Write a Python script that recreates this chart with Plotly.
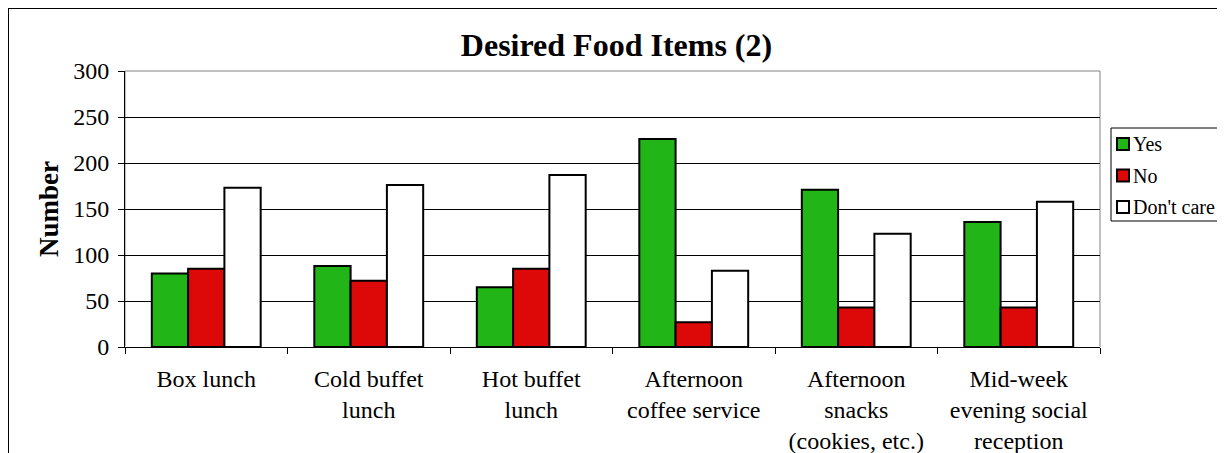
import plotly.graph_objs as go

# Chart data
categories = [
    "Box lunch",
    "Cold buffet<br>lunch",
    "Hot buffet<br>lunch",
    "Afternoon<br>coffee service",
    "Afternoon<br>snacks<br>(cookies, etc.)",
    "Mid-week<br>evening social<br>reception",
]
yes_values = [80, 88, 65, 226, 171, 136]
no_values = [85, 72, 85, 27, 43, 43]
dont_care_values = [173, 176, 187, 83, 123, 158]

series = [
    ("Yes", yes_values, "#21b517"),
    ("No", no_values, "#dd0808"),
    ("Don't care", dont_care_values, "#ffffff"),
]

font_family = "Liberation Serif, Times New Roman, serif"

# page adds an 8px body margin; size the figure so it fits the window
W, H = 1217, 445
L, T, PW, PH = 117, 63, 975, 276
R, B = W - L - PW, H - T - PH


def px_x(px):
    return (px - L) / PW


def px_y(py):
    return 1 - (py - T) / PH


fig = go.Figure()
for name, values, color in series:
    fig.add_trace(
        go.Bar(
            name=name,
            x=categories,
            y=values,
            marker=dict(color=color, line=dict(color="black", width=2)),
        )
    )

fig.update_layout(
    width=W,
    height=H,
    barmode="group",
    bargap=0.33,
    bargroupgap=0,
    plot_bgcolor="white",
    paper_bgcolor="white",
    margin=dict(l=L, r=R, t=T, b=B, autoexpand=False),
    font=dict(family=font_family, size=24, color="black"),
    title=dict(
        text="<b>Desired Food Items (2)</b>",
        x=0.5,
        xanchor="center",
        y=1 - 37 / H,
        yanchor="middle",
        font=dict(size=32),
    ),
    showlegend=False,
)

fig.update_yaxes(
    range=[0, 300],
    dtick=50,
    showgrid=True,
    gridcolor="black",
    gridwidth=1,
    showline=True,
    linecolor="black",
    linewidth=1,
    ticks="outside",
    ticklen=6,
    tickcolor="black",
    ticklabelstandoff=4,
    automargin=False,
    title=dict(text="<b>Number</b>", font=dict(size=27), standoff=6),
)
fig.update_xaxes(
    showline=True,
    linecolor="black",
    linewidth=1,
    ticks="outside",
    ticklen=6,
    tickcolor="black",
    tickson="boundaries",
    ticklabelstandoff=10,
    automargin=False,
)

# plot area border (top/right) and outer chart frame
fig.add_shape(
    type="rect", xref="paper", yref="paper", x0=0, y0=0, x1=1, y1=1,
    line=dict(color="gray", width=1), layer="below",
)
fig.add_shape(
    type="rect", xref="paper", yref="paper",
    x0=px_x(0), y0=px_y(H + 20), x1=px_x(W + 20), y1=px_y(0),
    line=dict(color="black", width=2), layer="below",
)

# legend box, drawn by hand so the keys sit close to the labels like the original
fig.add_shape(
    type="rect", xref="paper", yref="paper",
    x0=px_x(1103), y0=px_y(213), x1=px_x(W + 20), y1=px_y(120),
    line=dict(color="black", width=1), fillcolor="white",
)
for i, (name, values, color) in enumerate(series):
    cy = 136 + i * 31.5
    fig.add_shape(
        type="rect", xref="paper", yref="paper",
        x0=px_x(1109), y0=px_y(cy + 6), x1=px_x(1121), y1=px_y(cy - 6),
        line=dict(color="black", width=2), fillcolor=color,
    )
    fig.add_annotation(
        text=name, xref="paper", yref="paper", x=px_x(1123), y=px_y(cy),
        xanchor="left", yanchor="middle", showarrow=False,
        font=dict(size=20),
    )

fig.write_html("out.html")
